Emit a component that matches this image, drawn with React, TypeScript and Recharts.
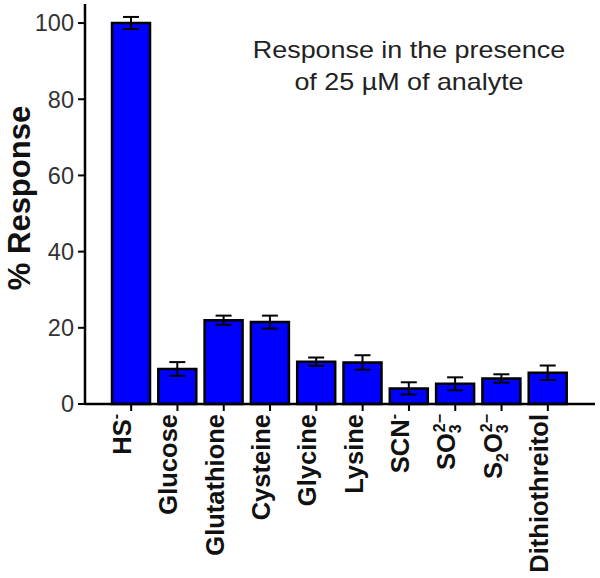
import React from 'react';
import { BarChart, Bar, XAxis, YAxis, ErrorBar } from 'recharts';

const analytes = ['HS-', 'Glucose', 'Glutathione', 'Cysteine', 'Glycine', 'Lysine', 'SCN-', 'SO3(2-)', 'S2O3(2-)', 'Dithiothreitol'];
const response = [100, 9.2, 22.0, 21.5, 11.1, 10.9, 4.1, 5.3, 6.7, 8.2];
const responseErr = [1.6, 1.8, 1.2, 1.7, 1.1, 1.9, 1.6, 1.7, 1.1, 1.9];
const yTicks = [0, 20, 40, 60, 80, 100];

// rich labels: plain text, sub (subscript) and sup (superscript) pieces
type Piece = { t: string; kind?: 'sub' | 'sup'; back?: number };
const richLabels: Record<string, Piece[]> = {
  'HS-': [{ t: 'HS' }, { t: '-', kind: 'sup' }],
  'SCN-': [{ t: 'SCN' }, { t: '-', kind: 'sup' }],
  'SO3(2-)': [{ t: 'SO' }, { t: '3', kind: 'sub' }, { t: '2−', kind: 'sup', back: 8 }],
  'S2O3(2-)': [{ t: 'S' }, { t: '2', kind: 'sub' }, { t: 'O' }, { t: '3', kind: 'sub' }, { t: '2−', kind: 'sup', back: 8 }],
};

const data = analytes.map((name, i) => ({ name, value: response[i], err: responseErr[i] }));

const FONT = 'Liberation Sans, Arial, Helvetica, sans-serif';

function XTick(props: any) {
  const { x, y, payload } = props;
  const pieces = richLabels[payload.value] || [{ t: payload.value }];
  let shift = 0;
  const spans = pieces.map((p, i) => {
    const target = p.kind === 'sub' ? 6 : p.kind === 'sup' ? -10 : 0;
    const dy = target - shift;
    shift = target;
    return (
      <tspan key={i} dy={dy} dx={p.back ? -p.back : 0} fontSize={p.kind ? 16 : 25.5}>
        {p.t}
      </tspan>
    );
  });
  return (
    <g transform={`translate(${x},${y}) rotate(-90)`}>
      <text x={0} y={0} dy={9} textAnchor="end" fontWeight="bold" fontSize={25.5} fill="#111" fontFamily={FONT}>
        {spans}
      </text>
    </g>
  );
}

function YTitle() {
  return (
    <text
      transform="translate(30,198) rotate(-90)"
      textAnchor="middle"
      fontWeight="bold"
      fontSize={31}
      fill="#111"
      fontFamily={FONT}
    >
      % Response
    </text>
  );
}

export default function App() {
  return (
    <div style={{ position: 'absolute', left: 0, top: 0, width: 600, height: 578, background: '#fff' }}>
      <BarChart width={600} height={578} data={data} margin={{ top: 4, right: 5, bottom: 0, left: 0 }}>
        <XAxis
          dataKey="name"
          interval={0}
          padding={{ left: 23, right: 24 }}
          height={174}
          tick={<XTick />}
          tickSize={7}
          tickMargin={3}
          axisLine={{ stroke: '#000', strokeWidth: 2.5 }}
          tickLine={{ stroke: '#000', strokeWidth: 2 }}
        />
        <YAxis
          width={85}
          domain={[0, 105]}
          ticks={yTicks}
          tickSize={7}
          tickMargin={4}
          tick={{ fontSize: 23.5, fill: '#333', fontFamily: FONT }}
          axisLine={{ stroke: '#000', strokeWidth: 2.5 }}
          tickLine={{ stroke: '#000', strokeWidth: 2 }}
          label={{ content: () => <YTitle /> }}
        />
        <Bar dataKey="value" fill="#0000FF" stroke="#000" strokeWidth={2.5} barSize={38} isAnimationActive={false}>
          <ErrorBar dataKey="err" width={8} stroke="#000" strokeWidth={2} isAnimationActive={false} />
        </Bar>
      </BarChart>
      <div
        style={{
          position: 'absolute',
          left: 250,
          top: 34,
          width: 318,
          textAlign: 'center',
          fontFamily: FONT,
          fontSize: 24,
          lineHeight: '32px',
          color: '#222',
          transform: 'scaleX(1.12)',
        }}
      >
        Response in the presence
        <br />
        of 25 µM of analyte
      </div>
    </div>
  );
}
